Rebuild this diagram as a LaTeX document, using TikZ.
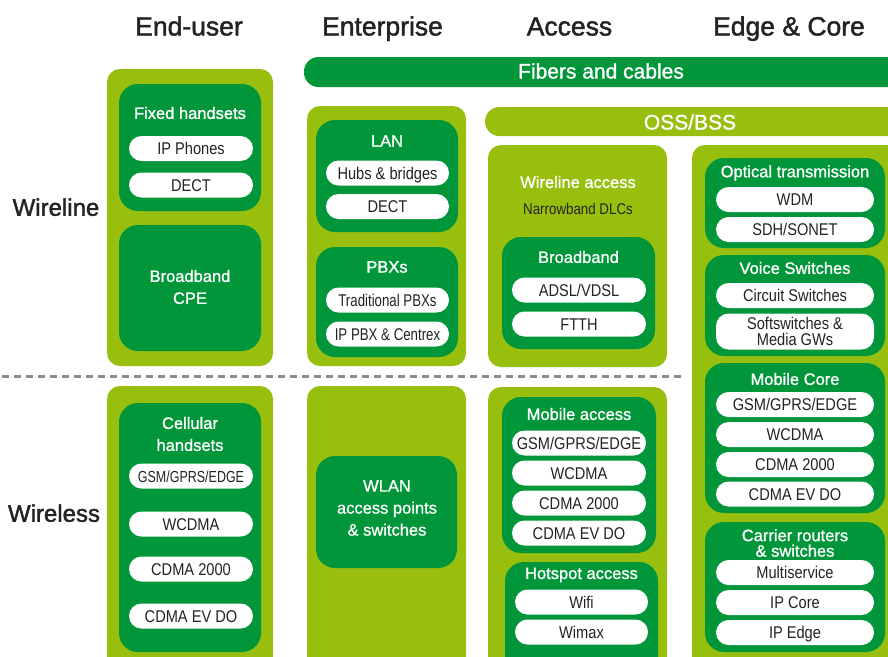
\documentclass[tikz,border=0pt]{standalone}
\usepackage{fontspec}
\setmainfont{Liberation Sans}
\newfontfamily\medfont{Liberation Sans}[FakeBold=1.1]
\newfontfamily\headfont{Liberation Sans}[FakeBold=1.6]
\newfontfamily\condfont{Liberation Sans}[FakeStretch=0.86]
\newfontfamily\tightfont{Liberation Sans}[FakeStretch=0.78]
\definecolor{leaf}{RGB}{152,191,14}
\definecolor{forest}{RGB}{0,150,57}
\definecolor{ink}{RGB}{35,35,35}
\definecolor{rule}{RGB}{140,140,140}

\begin{document}
\begin{tikzpicture}[x=1pt, y=-1pt,
  outer/.style={fill=leaf, rounded corners=13pt},
  inner/.style={fill=forest, rounded corners=19pt},
  bar/.style={rounded corners=14.5pt},
  pillbase/.style={fill=white, rounded corners=12.5pt, inner sep=0pt, text=ink,
    font=\condfont\fontsize{17}{16}\selectfont},
  pill/.style={pillbase, minimum width=#1, minimum height=25pt, text height=12.2pt, text depth=0pt},
  ttl/.style={text=white, inner sep=0pt, align=center, font=\medfont\fontsize{16.5}{22}\selectfont},
  head/.style={text=ink, inner sep=0pt, text height=19pt, text depth=0pt,
    font=\headfont\fontsize{26.5}{30}\selectfont},
  row/.style={text=ink, inner sep=0pt, text height=17.5pt, text depth=0pt,
    font=\headfont\fontsize{24}{30}\selectfont}]

  \clip (0,0) rectangle (888,656);
  \fill[white] (0,0) rectangle (888,656);

  % column and row headings
  \node (hEnd) [head] at (189,26) {End-user};
  \node (hEnt) [head] at (382.5,26) {Enterprise};
  \node (hAcc) [head] at (569.5,26) {Access};
  \node (hCore) [head] at (789,26) {Edge \& Core};
  \node (rLine) [row] at (56,207) {Wireline};
  \node (rLess) [row] at (54,513) {Wireless};

  % bars across the top
  \fill[forest, bar] (304,57) rectangle (920,87);
  \node (fib) [ttl, font=\medfont\fontsize{21}{24}\selectfont] at (601,71) {Fibers and cables};
  \fill[leaf, bar] (485,107) rectangle (920,136);
  \node (oss) [ttl, font=\medfont\fontsize{21}{24}\selectfont] at (690,122) {OSS/BSS};

  % wireline / wireless split
  \coordinate (sepL) at (2,376);
  \coordinate (sepR) at (682,376);
  \draw[rule, line width=3pt, dash pattern=on 7pt off 5pt] (sepL) -- (sepR);

  % End-user
  \fill[outer] (107,69) rectangle (273,366);
  \fill[inner] (119,84) rectangle (261,211);
  \node (fixT) [ttl] at (190,113) {Fixed handsets};
  \node (fixA) [pill=124pt] at (191,148.5) {IP Phones};
  \node (fixB) [pill=124pt] at (191,185) {DECT};
  \fill[inner] (119,225) rectangle (261,351);
  \node (cpe) [ttl] at (190,287) {Broadband\\CPE};

  \fill[outer] (107,386) rectangle (273,680);
  \fill[inner] (119,403) rectangle (261,652);
  \node (cellT) [ttl] at (190,434) {Cellular\\handsets};
  \node (cellA) [pill=124pt, font=\tightfont\fontsize{16}{16}\selectfont] at (191,476) {GSM/GPRS/EDGE};
  \node (cellB) [pill=124pt] at (191,524) {WCDMA};
  \node (cellC) [pill=124pt] at (191,569) {CDMA 2000};
  \node (cellD) [pill=124pt] at (191,616) {CDMA EV DO};

  % Enterprise
  \fill[outer] (307,106) rectangle (466,366);
  \fill[inner] (316,120) rectangle (458,232);
  \node (lanT) [ttl] at (387,141) {LAN};
  \node (lanA) [pill=123pt] at (387.5,173) {Hubs \& bridges};
  \node (lanB) [pill=123pt] at (387.5,206.5) {DECT};
  \fill[inner] (316,247) rectangle (458,357);
  \node (pbxT) [ttl] at (387,267) {PBXs};
  \node (pbxA) [pill=123pt, font=\tightfont\fontsize{17}{16}\selectfont] at (387.5,300) {Traditional PBXs};
  \node (pbxB) [pill=123pt, font=\tightfont\fontsize{17}{16}\selectfont] at (387.5,334) {IP PBX \& Centrex};

  \fill[outer] (307,386) rectangle (466,680);
  \fill[inner] (316,456) rectangle (457,568);
  \node (wlan) [ttl] at (387,508) {WLAN\\access points\\\& switches};

  % Access
  \fill[outer] (488,145) rectangle (667,367);
  \node (wlaT) [ttl] at (578,182) {Wireline access};
  \node (nbd) [text=ink, inner sep=0pt, font=\condfont\fontsize{15.5}{16}\selectfont] at (578,209) {Narrowband DLCs};
  \fill[inner] (502,237) rectangle (655,349);
  \node (bbT) [ttl] at (578.5,257) {Broadband};
  \node (bbA) [pill=134pt] at (579,290) {ADSL/VDSL};
  \node (bbB) [pill=134pt] at (579,324) {FTTH};

  \fill[outer] (488,387) rectangle (667,680);
  \fill[inner] (502,397) rectangle (656,553);
  \node (macT) [ttl] at (579,414) {Mobile access};
  \node (macA) [pill=134pt] at (579,443) {GSM/GPRS/EDGE};
  \node (macB) [pill=134pt] at (579,473) {WCDMA};
  \node (macC) [pill=134pt] at (579,503) {CDMA 2000};
  \node (macD) [pill=134pt] at (579,533) {CDMA EV DO};
  \fill[inner] (505,562) rectangle (658,680);
  \node (hotT) [ttl] at (581.5,575) {Hotspot access};
  \node (hotA) [pill=133pt] at (581.5,602) {Wifi};
  \node (hotB) [pill=133pt] at (581.5,632) {Wimax};

  % Edge & Core
  \fill[outer] (692,145) rectangle (920,680);
  \fill[inner] (705,158) rectangle (885,248);
  \node (optT) [ttl] at (795,173) {Optical transmission};
  \node (optA) [pill=158pt] at (795,199.5) {WDM};
  \node (optB) [pill=158pt] at (795,229.5) {SDH/SONET};
  \fill[inner] (705,255) rectangle (885,356);
  \node (vocT) [ttl] at (795,268) {Voice Switches};
  \node (vocA) [pill=158pt] at (795,295.5) {Circuit Switches};
  \node (vocB) [pillbase, minimum width=158pt, minimum height=36pt, align=center,
    font=\condfont\fontsize{17}{15.5}\selectfont] at (795,331.5) {Softswitches \&\\Media GWs};
  \fill[inner] (705,363) rectangle (885,513);
  \node (mcT) [ttl] at (795,379) {Mobile Core};
  \node (mcA) [pill=158pt] at (795,404.5) {GSM/GPRS/EDGE};
  \node (mcB) [pill=158pt] at (795,434.5) {WCDMA};
  \node (mcC) [pill=158pt] at (795,464.5) {CDMA 2000};
  \node (mcD) [pill=158pt] at (795,494) {CDMA EV DO};
  \fill[inner] (705,522) rectangle (885,652);
  \node (crT) [ttl, font=\medfont\fontsize{16.5}{15.5}\selectfont] at (795,543) {Carrier routers\\\& switches};
  \node (crA) [pill=158pt] at (795,572.5) {Multiservice};
  \node (crB) [pill=158pt] at (795,602.5) {IP Core};
  \node (crC) [pill=158pt] at (795,632.5) {IP Edge};
\end{tikzpicture}
\end{document}
